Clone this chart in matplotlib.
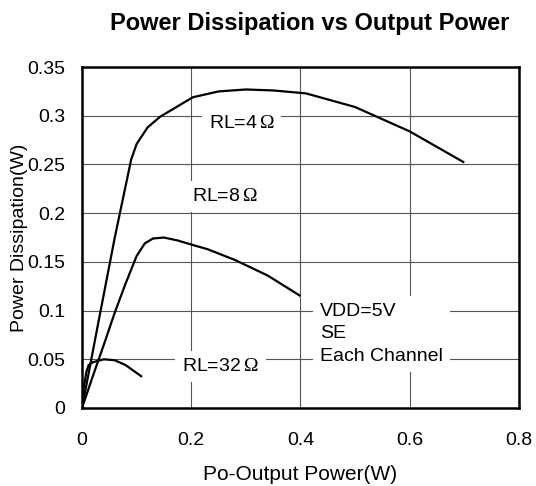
import matplotlib
matplotlib.use("Agg")
import matplotlib.pyplot as plt

plt.rcParams["font.family"] = ["Liberation Sans", "DejaVu Sans"]
plt.rcParams["mathtext.fontset"] = "custom"
plt.rcParams["mathtext.rm"] = "Liberation Serif"

# Power dissipation curves, one per load resistance (W vs W)
po_4 = [0.0, 0.03, 0.06, 0.09, 0.10, 0.12, 0.143, 0.17, 0.203, 0.25, 0.30, 0.35, 0.41, 0.50, 0.60, 0.70]
pd_4 = [0.0, 0.088, 0.175, 0.255, 0.271, 0.288, 0.299, 0.308, 0.319, 0.325, 0.327, 0.326, 0.323, 0.309, 0.284, 0.252]

po_8 = [0.0, 0.02, 0.04, 0.06, 0.08, 0.10, 0.115, 0.13, 0.15, 0.175, 0.205, 0.23, 0.28, 0.34, 0.40]
pd_8 = [0.0, 0.033, 0.065, 0.098, 0.128, 0.156, 0.169, 0.174, 0.175, 0.172, 0.167, 0.163, 0.152, 0.136, 0.115]

po_32 = [0.0, 0.003, 0.008, 0.012, 0.02, 0.04, 0.06, 0.08, 0.11]
pd_32 = [0.0, 0.02, 0.037, 0.044, 0.047, 0.050, 0.049, 0.044, 0.032]

x_ticks = [0, 0.2, 0.4, 0.6, 0.8]
y_ticks = [0, 0.05, 0.1, 0.15, 0.2, 0.25, 0.3, 0.35]

fig = plt.figure(figsize=(5.36, 4.86), dpi=100)
ax = fig.add_axes([0.153, 0.1605, 0.815, 0.7015])

for po, pd in ((po_4, pd_4), (po_8, pd_8), (po_32, pd_32)):
    ax.plot(po, pd, color="black", lw=1.6, solid_capstyle="butt", zorder=3)

ax.set_xlim(0, 0.8)
ax.set_ylim(0, 0.35)
ax.set_xticks(x_ticks)
ax.set_yticks(y_ticks)
ax.set_xticklabels(["0", "0.2", "0.4", "0.6", "0.8"])
ax.set_yticklabels(["0", "0.05", "0.1", "0.15", "0.2", "0.25", "0.3", "0.35"])
ax.tick_params(length=0, labelsize=14)
ax.tick_params(axis="x", pad=17)
ax.tick_params(axis="y", pad=12)
ax.grid(True, color="#555555", lw=0.8)
ax.set_axisbelow(True)
for s in ax.spines.values():
    s.set_linewidth(1.8)

ax.set_xlabel("Po-Output Power(W)", fontsize=15, labelpad=12)
ax.set_ylabel("Power Dissipation(W)", fontsize=14)
ax.yaxis.set_label_coords(-0.123, 0.5)
fig.text(0.577, 0.952, "Power Dissipation vs Output Power", fontsize=17,
         fontweight="bold", ha="center", va="center")

box = dict(facecolor="white", edgecolor="none", pad=5)
ax.text(0.292, 0.292, r"RL=4$\,\mathrm{\Omega}$", fontsize=14, ha="center", va="center", bbox=box, zorder=4)
ax.text(0.262, 0.217, r"RL=8$\,\mathrm{\Omega}$", fontsize=14, ha="center", va="center", bbox=box, zorder=4)
ax.text(0.254, 0.0425, r"RL=32$\,\mathrm{\Omega}$", fontsize=14, ha="center", va="center", bbox=box, zorder=4)
ax.text(0.436, 0.076, "VDD=5V\nSE\nEach Channel", fontsize=14, ha="left", va="center",
        linespacing=1.4, bbox=dict(facecolor="white", edgecolor="none", pad=5), zorder=4)

fig.savefig("out.png", dpi=100)
